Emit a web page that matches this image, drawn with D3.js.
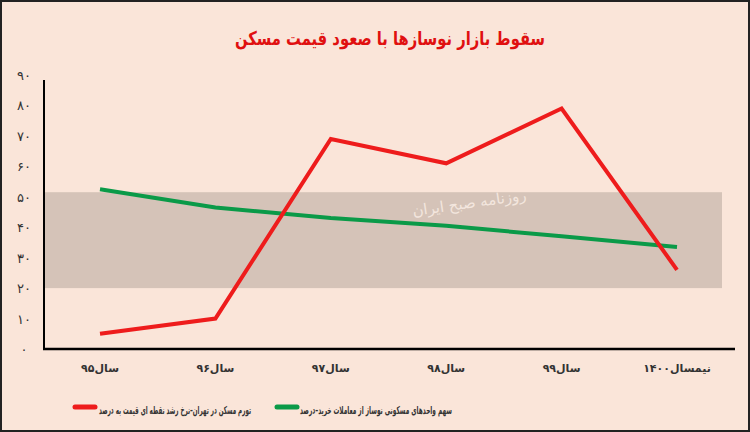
<!DOCTYPE html>
<html><head><meta charset="utf-8">
<script src="https://cdn.jsdelivr.net/npm/d3@7"></script>
<style>body{margin:0;background:#fff}svg{display:block;font-family:"DejaVu Sans",sans-serif}</style>
</head><body><svg id="c" width="750" height="432"></svg>
<script>
// data
var years = ["سال۹۵", "سال۹۶", "سال۹۷", "سال۹۸", "سال۹۹", "نیمسال۱۴۰۰"];
var inflation = [5, 10, 69, 61, 79, 26];
var newShare = [52.5, 46.5, 43, 40.5, 37, 33.5];
var yTicks = [0, 10, 20, 30, 40, 50, 60, 70, 80, 90];

var svg = d3.select("#c");
svg.append("rect").attr("x", 1).attr("y", 1).attr("width", 748).attr("height", 430)
  .attr("fill", "#fae5d9").attr("stroke", "#222").attr("stroke-width", 2);

function toFa(n) { return String(n).replace(/\d/g, d => "۰۱۲۳۴۵۶۷۸۹"[d]); }

var x = d3.scalePoint().domain(years).range([100, 677]);
var y = d3.scaleLinear().domain([0, 90]).range([349, 75]);

// watermark band
svg.append("rect").attr("x", 45).attr("y", y(51.5)).attr("width", 677)
  .attr("height", y(20) - y(51.5)).attr("fill", "#d5c3b8");
svg.append("text").attr("x", 470).attr("y", 208).attr("text-anchor", "middle")
  .attr("font-size", 15).attr("fill", "#f3e6de").attr("transform", "rotate(-8,470,208)")
  .text("روزنامه صبح ایران");

// y tick labels
svg.selectAll(".yt").data(yTicks).join("text")
  .attr("x", 24).attr("y", d => y(d) + 5).attr("text-anchor", "middle")
  .attr("font-size", 13).attr("fill", "#333").text(d => toFa(d));

// axes lines
svg.append("line").attr("x1", 44).attr("x2", 44).attr("y1", 80).attr("y2", 349)
  .attr("stroke", "#000").attr("stroke-width", 2);
svg.append("line").attr("x1", 43).attr("x2", 735).attr("y1", 349).attr("y2", 349)
  .attr("stroke", "#000").attr("stroke-width", 2.5);

// x labels
svg.selectAll(".xt").data(years).join("text")
  .attr("x", d => x(d)).attr("y", 372).attr("text-anchor", "middle")
  .attr("font-size", 11).attr("font-weight", "bold").attr("fill", "#333").text(d => d);

var line = d3.line().x((d, i) => x(years[i])).y(d => y(d));
svg.append("path").datum(newShare).attr("d", line).attr("fill", "none")
  .attr("stroke", "#0a9a48").attr("stroke-width", 4);
svg.append("path").datum(inflation).attr("d", line).attr("fill", "none")
  .attr("stroke", "#ee1c1c").attr("stroke-width", 4);

// title
svg.append("text").attr("x", 390).attr("y", 45).attr("text-anchor", "middle")
  .attr("font-size", 19).attr("font-weight", "bold").attr("fill", "#e01010")
  .attr("textLength", 310).attr("lengthAdjust", "spacingAndGlyphs")
  .text("سقوط بازار نوسازها با صعود قیمت مسکن");

// legend
var legend = [
  {label: "سهم واحدهای مسکونی نوساز از معاملات خرید–درصد", color: "#0a9a48", lx: 287, tx: 452},
  {label: "تورم مسکن در تهران–نرخ رشد نقطه ای قیمت به درصد", color: "#ee1c1c", lx: 85, tx: 251}
];
legend.forEach(l => {
  svg.append("line").attr("x1", l.lx - 10).attr("x2", l.lx + 10).attr("y1", 407).attr("y2", 407)
    .attr("stroke", l.color).attr("stroke-width", 5).attr("stroke-linecap", "round");
  svg.append("text").attr("x", l.tx).attr("y", 414).attr("text-anchor", "end")
    .attr("font-size", 11).attr("font-weight", "bold").attr("fill", "#333")
    .attr("textLength", 152).attr("lengthAdjust", "spacingAndGlyphs")
    .text(l.label);
});
</script></body></html>
